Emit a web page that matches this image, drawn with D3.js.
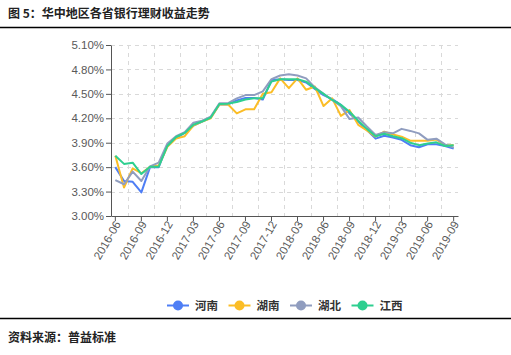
<!DOCTYPE html>
<html><head><meta charset="utf-8">
<script src="https://cdn.jsdelivr.net/npm/d3@7/dist/d3.min.js"></script>
<style>
html,body{margin:0;padding:0;background:#fff;}
svg{display:block;}
</style></head>
<body><svg id="c" width="511" height="355"></svg>
<script>
const title = "图 5：华中地区各省银行理财收益走势";
const source = "资料来源：普益标准";
const months = ["2016-06","2016-07","2016-08","2016-09","2016-10","2016-11","2016-12","2017-01","2017-02","2017-03","2017-04","2017-05","2017-06","2017-07","2017-08","2017-09","2017-10","2017-11","2017-12","2018-01","2018-02","2018-03","2018-04","2018-05","2018-06","2018-07","2018-08","2018-09","2018-10","2018-11","2018-12","2019-01","2019-02","2019-03","2019-04","2019-05","2019-06","2019-07","2019-08","2019-09"];
const yTicks = [3.0,3.3,3.6,3.9,4.2,4.5,4.8,5.1];
const seriesNames = ["河南","湖南","湖北","江西"];
const henan = [3.60,3.43,3.42,3.29,3.60,3.60,3.87,3.96,4.02,4.11,4.16,4.21,4.37,4.37,4.42,4.45,4.45,4.43,4.67,4.68,4.67,4.67,4.64,4.56,4.485,4.435,4.365,4.26,4.16,4.055,3.95,3.985,3.965,3.935,3.87,3.845,3.88,3.88,3.86,3.83];
const hunan = [3.74,3.35,3.585,3.525,3.605,3.62,3.85,3.95,3.98,4.11,4.16,4.20,4.37,4.37,4.26,4.31,4.31,4.50,4.52,4.69,4.57,4.69,4.55,4.59,4.35,4.445,4.23,4.30,4.12,4.05,3.975,4.035,4.00,3.975,3.925,3.925,3.925,3.94,3.87,3.87];
const hubei = [3.44,3.39,3.545,3.43,3.61,3.655,3.89,3.98,4.03,4.145,4.17,4.22,4.385,4.385,4.445,4.485,4.485,4.53,4.68,4.725,4.74,4.725,4.69,4.58,4.50,4.425,4.35,4.19,4.21,4.10,3.995,4.03,4.015,4.07,4.045,4.015,3.935,3.95,3.88,3.84];
const jiangxi = [3.74,3.64,3.655,3.515,3.605,3.605,3.86,3.97,4.02,4.12,4.16,4.21,4.375,4.38,4.40,4.43,4.445,4.445,4.65,4.68,4.68,4.68,4.65,4.57,4.50,4.425,4.365,4.28,4.17,4.07,3.98,4.01,3.98,3.955,3.90,3.87,3.89,3.905,3.86,3.87];
const colors = ["#4e7ef5","#fbbd26","#909dbf","#2ecf90"];

const svg = d3.select("#c");
const cjk = "'Noto Sans CJK SC','Noto Sans',sans-serif";
const lat = "'Liberation Sans',Arial,sans-serif";

// title & rules
svg.append("text").attr("x",8).attr("y",18).attr("font-family",cjk).attr("font-size",12).attr("font-weight","bold").attr("fill","#222").text(title);
svg.append("line").attr("x1",0).attr("x2",511).attr("y1",27.5).attr("y2",27.5).attr("stroke","#000").attr("stroke-width",1.5);
svg.append("line").attr("x1",0).attr("x2",511).attr("y1",318.5).attr("y2",318.5).attr("stroke","#000").attr("stroke-width",1.5);
svg.append("text").attr("x",8).attr("y",342).attr("font-family",cjk).attr("font-size",12).attr("font-weight","bold").attr("fill","#222").text(source);

const L=111, R=458, T=45, B=216;
const x = d3.scaleBand().domain(months).range([L,R]).padding(0);
const y = d3.scaleLinear().domain([3.0,5.1]).range([B,T]);
const bw = x.bandwidth();
const cx = m => x(m)+bw/2;

// gridlines
const g = svg.append("g");
yTicks.forEach(t=>{
  if (t===3.0) return;
  g.append("line").attr("x1",L).attr("x2",R).attr("y1",Math.round(y(t))+0.5).attr("y2",Math.round(y(t))+0.5)
   .attr("stroke","#d9d9d9").attr("stroke-dasharray","4,4");
});
for (let i=0;i+1<months.length;i+=3){
  const xv = cx(months[i]) + 1.5*bw;
  if (xv>=R) break;
  g.append("line").attr("x1",Math.round(xv)+0.5).attr("x2",Math.round(xv)+0.5).attr("y1",T).attr("y2",B)
   .attr("stroke","#d9d9d9").attr("stroke-dasharray","4,4");
}

// axes
const xTickVals = months.filter((m,i)=>i%3===0);
const xAxis = d3.axisBottom(x).tickValues(xTickVals).tickSize(5).tickSizeOuter(0);
const ax = svg.append("g").attr("transform",`translate(0,${B})`).call(xAxis);
ax.select(".domain").attr("stroke","#555");
ax.selectAll(".tick line").attr("stroke","#555");
ax.selectAll(".tick text").attr("font-family",lat).attr("font-size",11.5).attr("fill","#595959")
  .attr("text-anchor","end").attr("x",-4).attr("y",5).attr("dy","0.35em").attr("transform","rotate(-60)");

const yAxis = d3.axisLeft(y).tickValues(yTicks).tickFormat(d=>d.toFixed(2)+"%").tickSize(5).tickSizeOuter(0);
const ay = svg.append("g").attr("transform",`translate(${L},0)`).call(yAxis);
ay.select(".domain").attr("stroke","#555");
ay.selectAll(".tick line").attr("stroke","#555");
ay.selectAll(".tick text").attr("font-family",lat).attr("font-size",11.5).attr("fill","#595959").attr("x",-7);

// lines
const data = [henan,hunan,hubei,jiangxi];
const line = d3.line().x((d,i)=>cx(months[i])).y(d=>y(d));
data.forEach((s,k)=>{
  svg.append("path").datum(s).attr("d",line).attr("fill","none").attr("stroke",colors[k]).attr("stroke-width",2).attr("stroke-linejoin","round");
});

// legend
const lg = svg.append("g");
seriesNames.forEach((n,k)=>{
  const x0 = 167 + k*61.5, yy = 305.5;
  lg.append("line").attr("x1",x0).attr("x2",x0+22).attr("y1",yy).attr("y2",yy).attr("stroke",colors[k]).attr("stroke-width",2);
  lg.append("circle").attr("cx",x0+11).attr("cy",yy).attr("r",5).attr("fill",colors[k]);
  lg.append("text").attr("x",x0+28).attr("y",yy+4).attr("font-family",cjk).attr("font-size",11.5).attr("font-weight","bold").attr("fill","#333").text(n);
});
</script></body></html>
